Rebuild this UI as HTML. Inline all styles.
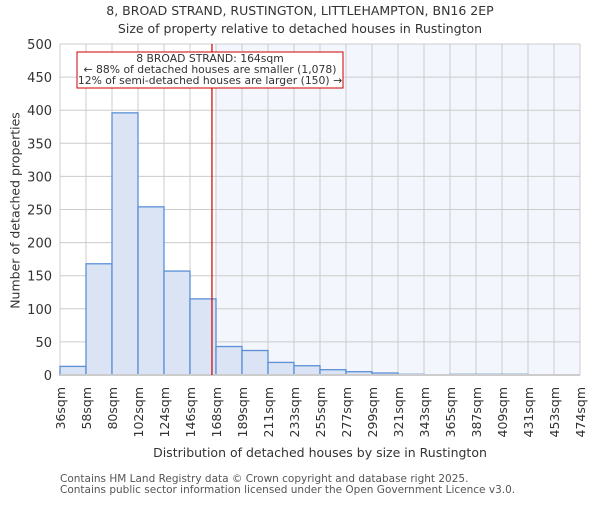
<!DOCTYPE html>
<html><head><meta charset="utf-8"><style>
body{margin:0;background:#fff;font-family:"Liberation Sans","DejaVu Sans",sans-serif}
text{font-family:"DejaVu Sans","Liberation Sans",sans-serif;fill:#333}
</style></head><body>
<svg id="c" width="600" height="500"></svg>
<script>
const edges=["36sqm","58sqm","80sqm","102sqm","124sqm","146sqm","168sqm","189sqm","211sqm","233sqm","255sqm","277sqm","299sqm","321sqm","343sqm","365sqm","387sqm","409sqm","431sqm","453sqm","474sqm"];
const counts=[13,168,396,254,157,115,43,37,19,14,8,5,3,1,0,1,1,1,0,0];
const yTicks=[0,50,100,150,200,250,300,350,400,450,500];
const marker=164;
const xMin=36,xMax=474;
const L=60,R=580,T=44,B=375;
const svg=document.getElementById('c');
const NS='http://www.w3.org/2000/svg';
function mk(t,a,p){const e=document.createElementNS(NS,t);for(const k in a)e.setAttribute(k,a[k]);(p||svg).appendChild(e);return e;}
const xb=i=>L+i*(R-L)/counts.length;
const xv=v=>L+(v-xMin)/(xMax-xMin)*(R-L);
const y=v=>B-v/500*(B-T);
let sh=mk('rect',{x:xv(marker)+3,y:T,width:R-xv(marker)-3,height:B-T,fill:'#f4f6fd'});


yTicks.forEach(t=>{let g=mk('line',{x1:L,x2:R,y1:y(t),y2:y(t),stroke:'#cccccc'});


let lb=mk('text',{x:L-8,y:y(t)+5,'text-anchor':'end','font-size':13});lb.textContent=t;

});
edges.forEach((e,i)=>{let g=mk('line',{x1:xb(i),x2:xb(i),y1:T,y2:B,stroke:'#cccccc'});


let lb=mk('text',{x:0,y:0,'text-anchor':'end','font-size':12.5,transform:`translate(${xb(i)+5},${B+12}) rotate(-90)`});lb.textContent=e;

});
counts.forEach((c,i)=>{if(c<=0)return;let r=mk('rect',{x:xb(i),y:y(c),width:xb(i+1)-xb(i),height:B-y(c),fill:'#dae4f4',stroke:'#5b8fd6','stroke-width':1.3});

});
let ax=mk('line',{x1:L,x2:R,y1:B,y2:B,stroke:'#cccccc','stroke-width':2});


let ml=mk('line',{x1:xv(marker),x2:xv(marker),y1:T,y2:B,stroke:'#cc0000','stroke-width':1.2});


let box=mk('rect',{x:77,y:52,width:266,height:36,fill:'#fff',stroke:'#cc0000'});


[["8 BROAD STRAND: 164sqm",62],["← 88% of detached houses are smaller (1,078)",73],["12% of semi-detached houses are larger (150) →",84]].forEach(([s,yy])=>{let t=mk('text',{x:210,y:yy,'text-anchor':'middle','font-size':10.8});t.textContent=s;

});
</script>
<div style="position:absolute;top:2px;left:0;width:600px;text-align:center;font:12.5px 'DejaVu Sans',sans-serif;color:#333;line-height:18px">8, BROAD STRAND, RUSTINGTON, LITTLEHAMPTON, BN16 2EP<br>Size of property relative to detached houses in Rustington</div>
<div style="position:absolute;top:445px;left:0;width:640px;text-align:center;font:12.5px 'DejaVu Sans',sans-serif;color:#333">Distribution of detached houses by size in Rustington</div>
<div style="position:absolute;top:203px;left:-115px;width:260px;text-align:center;white-space:nowrap;transform:rotate(-90deg);font:12.5px 'DejaVu Sans',sans-serif;color:#333">Number of detached properties</div>
<div style="position:absolute;top:474px;left:60px;font:10.5px 'DejaVu Sans',sans-serif;color:#555;line-height:11px;white-space:nowrap">Contains HM Land Registry data © Crown copyright and database right 2025.<br>Contains public sector information licensed under the Open Government Licence v3.0.</div>
</body></html>
